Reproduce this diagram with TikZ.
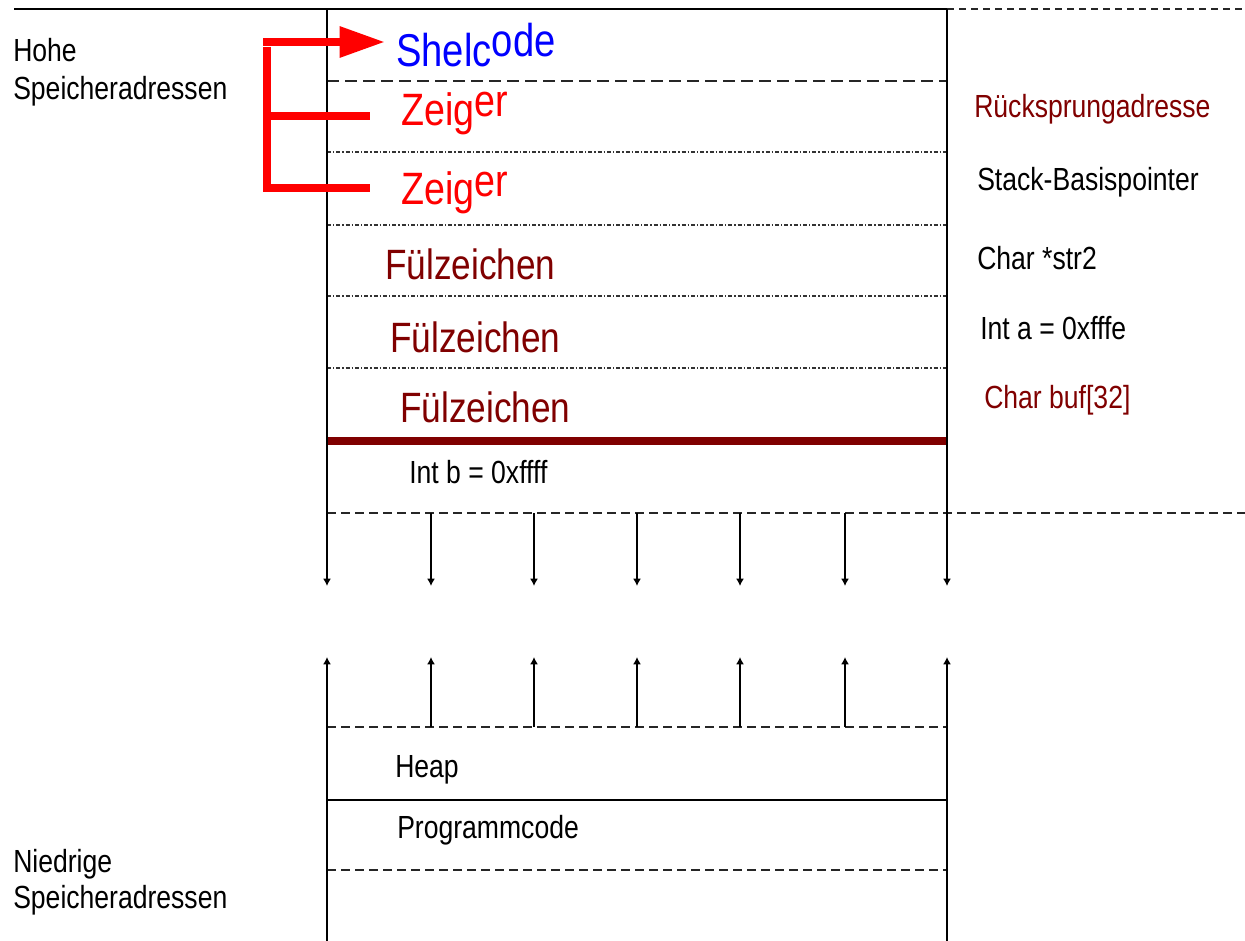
\documentclass[tikz,border=0pt]{standalone}
\usepackage{fontspec}
\setmainfont{Liberation Sans}[FakeStretch=0.83]
\usetikzlibrary{arrows.meta}
\definecolor{darkred}{HTML}{800000}
\definecolor{pure red}{HTML}{FF0000}
\definecolor{pure blue}{HTML}{0000FF}
\begin{document}
\begin{tikzpicture}[x=0.75pt,y=-0.75pt,
  txt/.style={anchor=base west,inner sep=0pt,font=\fontsize{24}{28}\selectfont},
  bigtxt/.style={anchor=base west,inner sep=0pt,font=\fontsize{34}{38}\selectfont},
  filltxt/.style={anchor=base west,inner sep=0pt,font=\fontsize{31.8}{36}\selectfont,text=darkred},
  frameline/.style={line width=2.2pt,black},
  thinsolid/.style={line width=1.8pt,black},
  longdash/.style={line width=1.3pt,black!85,dash pattern=on 9pt off 4.5pt},
  middash/.style={line width=1.3pt,black!85,dash pattern=on 7pt off 3.5pt},
  shortdash/.style={line width=1.3pt,black!85,dash pattern=on 5.5pt off 3.5pt},
  dotline/.style={line width=1.2pt,black!80,dash pattern=on 3pt off 1.5pt on 1pt off 1.5pt},
  tipdown/.style={-{Latex[length=5.5pt,width=6pt]}},
  redline/.style={line width=6pt,pure red},
]
\useasboundingbox (0,0) rectangle (1245,941);

% ---- horizontal lines
\coordinate (TL) at (14,9); \coordinate (TM) at (947,9); \coordinate (TR) at (1245,9);
\draw[frameline] (TL) -- (TM);
\draw[shortdash] (TM) -- (TR);

\coordinate (h1a) at (327,81);  \coordinate (h1b) at (947,81);
\coordinate (h2a) at (327,152); \coordinate (h2b) at (947,152);
\coordinate (h3a) at (327,225); \coordinate (h3b) at (947,225);
\coordinate (h4a) at (327,296); \coordinate (h4b) at (947,296);
\coordinate (h5a) at (327,368); \coordinate (h5b) at (947,368);
\coordinate (h6a) at (327,441); \coordinate (h6b) at (947,441);
\coordinate (h7a) at (327,513); \coordinate (h7b) at (1245,513);
\coordinate (h8a) at (327,727); \coordinate (h8b) at (947,727);
\coordinate (h9a) at (327,800); \coordinate (h9b) at (947,800);
\coordinate (h10a) at (327,870); \coordinate (h10b) at (947,870);

\draw[longdash] (h1a) -- (h1b);
\draw[dotline] (h2a) -- (h2b);
\draw[dotline] (h3a) -- (h3b);
\draw[dotline] (h4a) -- (h4b);
\draw[dotline] (h5a) -- (h5b);
\draw[line width=5.5pt,darkred] (h6a) -- (h6b);
\draw[middash] (h7a) -- (h7b);
\draw[middash] (h8a) -- (h8b);
\draw[thinsolid] (h9a) -- (h9b);
\draw[middash] (h10a) -- (h10b);

% ---- frame verticals
\coordinate (LT) at (327,9);   \coordinate (LD) at (327,586);
\coordinate (LB) at (327,941); \coordinate (LU) at (327,657);
\coordinate (RT) at (947,9);   \coordinate (RD) at (947,586);
\coordinate (RB) at (947,941); \coordinate (RU) at (947,657);
\draw[frameline,tipdown] (LT) -- (LD);
\draw[frameline,tipdown] (LB) -- (LU);
\draw[frameline,tipdown] (RT) -- (RD);
\draw[frameline,tipdown] (RB) -- (RU);

% ---- growth arrows
\foreach \x/\n in {431/b,534/c,637/d,740/e,845/f} {
  \coordinate (s\n) at (\x,513); \coordinate (d\n) at (\x,586);
  \coordinate (w\n) at (\x,727); \coordinate (u\n) at (\x,657);
  \draw[thinsolid,tipdown] (s\n) -- (d\n);
  \draw[thinsolid,tipdown] (w\n) -- (u\n);
}

% ---- left labels
\node[txt] (hohe1) at (13,62) {Hohe};
\node[txt] (hohe2) at (13,100) {Speicheradressen};
\node[txt] (nied1) at (13,872) {Niedrige};
\node[txt] (nied2) at (13,908) {Speicheradressen};

% ---- right labels
\node[txt,text=darkred] (ret) at (974,118) {Rücksprungadresse};
\node[txt] (sbp) at (977,191) {Stack-Basispointer};
\node[txt] (str) at (977,269) {Char *str2};
\node[txt] (inta) at (980,339) {Int a = 0xfffe};
\node[txt,text=darkred] (buf) at (984,408) {Char buf[32]};

% ---- inner labels
\node[txt] (intb) at (409,483) {Int b = 0xffff};
\node[txt] (heap) at (395,777) {Heap};
\node[txt] (prog) at (397,838) {Programmcode};

\node[bigtxt,text=pure blue,font=\fontsize{34.5}{38}\selectfont] (shell) at (396,67) {Shelc\raisebox{7.5pt}{ode}};
\node[bigtxt,text=pure red] (zeig1) at (401,126) {Zeig\raisebox{6.75pt}{er}};
\node[bigtxt,text=pure red] (zeig2) at (401,205) {Zeig\raisebox{6pt}{er}};
\node[filltxt] (fuel1) at (385,279) {Fülzeichen};
\node[filltxt] (fuel2) at (390,352) {Fülzeichen};
\node[filltxt] (fuel3) at (400,422) {Fülzeichen};

% ---- red pointer bracket
\coordinate (ra) at (263,42);
\coordinate (rb) at (385,42);
\draw[redline,-{Triangle[length=34pt,width=22pt]}] (ra) -- (rb);
\coordinate (vt) at (267,47);
\coordinate (vb) at (267,188);
\coordinate (z1) at (370,116);
\coordinate (z2) at (370,188);
\coordinate (vm) at (267,116);
\draw[redline,line join=miter] (vt) -- (vb) -- (z2);
\draw[redline] (vm) -- (z1);
\end{tikzpicture}
\end{document}
